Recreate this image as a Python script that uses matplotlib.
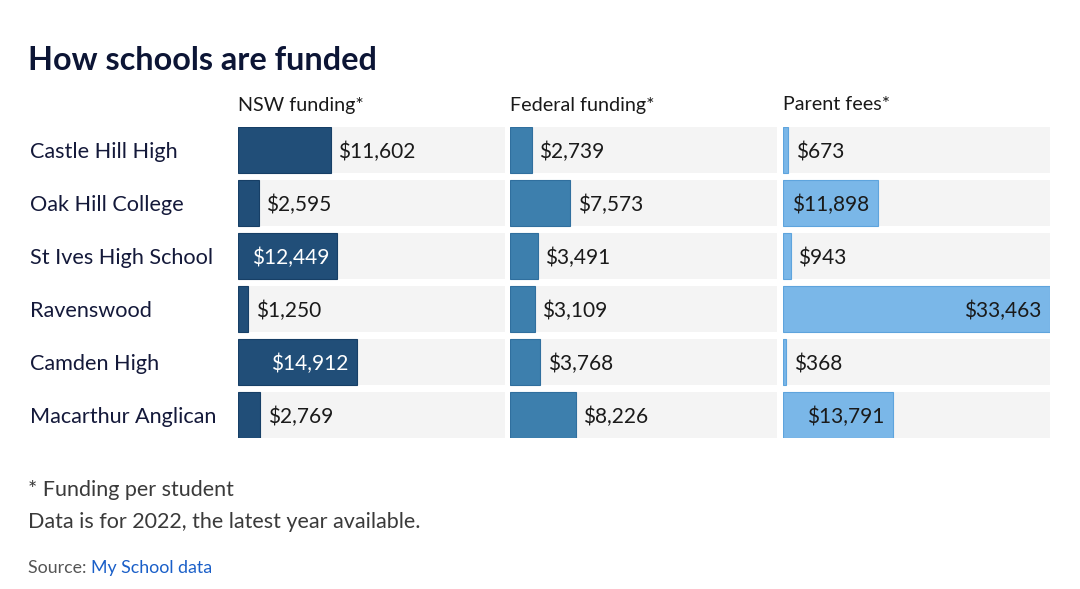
import matplotlib.pyplot as plt

plt.rcParams['font.family'] = ['Lato', 'DejaVu Sans']

schools = ['Castle Hill High', 'Oak Hill College', 'St Ives High School',
           'Ravenswood', 'Camden High', 'Macarthur Anglican']
nsw = [11602, 2595, 12449, 1250, 14912, 2769]
federal = [2739, 7573, 3491, 3109, 3768, 8226]
parent = [673, 11898, 943, 33463, 368, 13791]
headers = ['NSW funding*', 'Federal funding*', 'Parent fees*']

# which labels sit inside the bar
nsw_inside = [False, False, True, False, True, False]
federal_inside = [False] * 6
parent_inside = [False, True, False, True, False, True]

W, H = 1080, 589
fig = plt.figure(figsize=(W / 100, H / 100), dpi=100)
fig.patch.set_facecolor('white')

xmax = 33463
h = 46 / 53
panels = [
    (238, nsw, nsw_inside, '#214e78', '#173f66', 'white'),
    (510, federal, federal_inside, '#3d7fad', '#306f9e', '#1a1a1a'),
    (783, parent, parent_inside, '#7ab7e8', '#5ea4dd', '#1a1a1a'),
]

for (left, vals, inside, col, edge, incol), head in zip(panels, headers):
    ax = fig.add_axes([left / W, 1 - 438 / H, 267 / W, 311 / H])
    ypos = list(range(len(schools)))
    ax.barh(ypos, [xmax] * len(vals), height=h, color='#f4f4f4', lw=0)
    ax.barh(ypos, vals, height=h, color=col, edgecolor=edge, lw=0.8)
    for y, v, ins in zip(ypos, vals, inside):
        txt = '${:,}'.format(v)
        if ins:
            ax.annotate(txt, (v, y), xytext=(-6, -1.5), textcoords='offset points',
                        ha='right', va='center', fontsize=15, color=incol)
        else:
            ax.annotate(txt, (v, y), xytext=(5.5, -1.5), textcoords='offset points',
                        ha='left', va='center', fontsize=15, color='#1a1a1a')
    ax.set_xlim(0, xmax)
    ax.set_ylim(len(schools) - 1 + h / 2, -h / 2)
    ax.axis('off')
    fig.text(left / W, 1 - 105 / H, head, ha='left', va='center',
             fontsize=14.2, color='#1a1a1a')

for i, s in enumerate(schools):
    fig.text(30 / W, 1 - (152 + 53 * i) / H, s, ha='left', va='center',
             fontsize=15.6, color='#14193a')

fig.text(28 / W, 1 - 60 / H, 'How schools are funded', ha='left', va='center',
         fontsize=23.3, fontweight='bold', color='#0c1535')

fig.text(28 / W, 1 - 490 / H, '* Funding per student', ha='left', va='center',
         fontsize=15.5, color='#3a3a3a')
fig.text(28 / W, 1 - 522 / H, 'Data is for 2022, the latest year available.',
         ha='left', va='center', fontsize=15.5, color='#3a3a3a')
t = fig.text(28 / W, 1 - 568 / H, 'Source: ', ha='left', va='center',
             fontsize=12.8, color='#555555')
fig.canvas.draw()
bb = t.get_window_extent()
fig.text(bb.x1 / W, 1 - 568 / H, 'My School data', ha='left', va='center',
         fontsize=12.8, color='#1a5fc8')

fig.savefig('out.png', dpi=100, facecolor='white')
